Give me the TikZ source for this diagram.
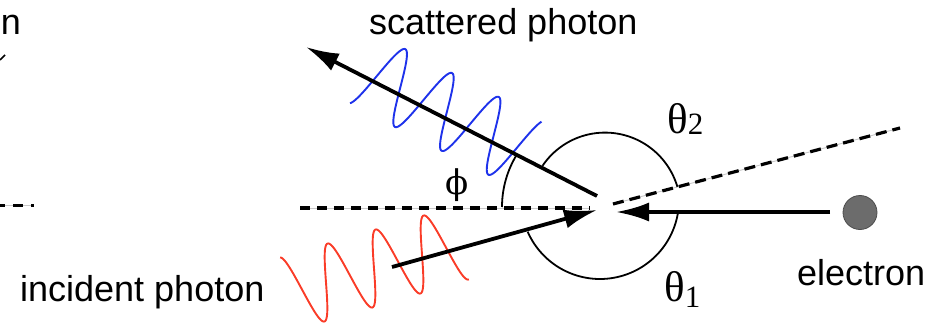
\documentclass[tikz,border=0pt]{standalone}
\usepackage{fontspec}
\setmainfont{Liberation Sans}
\newfontfamily\greekfont{Liberation Serif}
\newfontfamily\phifont{DejaVu Serif}
\usetikzlibrary{arrows.meta}
\definecolor{wblue}{RGB}{30,50,235}
\definecolor{wred}{RGB}{250,60,40}
\definecolor{dotgray}{RGB}{108,108,108}
\definecolor{underlay}{RGB}{200,200,200}
\begin{document}
\begin{tikzpicture}[x=1pt,y=-1pt,
  lbl/.style={inner sep=0pt, font=\fontsize{36}{40}\selectfont},
  glbl/.style={inner sep=0pt, font=\greekfont\fontsize{43}{48}\selectfont},
  bigarrow/.style={line width=3.8pt, -{Latex[length=33pt,width=19pt]}},
  dashline/.style={line width=3.6pt, dash pattern=on 10pt off 7pt},
  thinline/.style={line width=0.9pt, underlay},
  anglearc/.style={line width=1.8pt},
  wave/.style={line width=1.9pt}]
\useasboundingbox (0,0) rectangle (936,323);

% named points
\coordinate (l1) at (0,205);
\coordinate (l2) at (34,205);
\coordinate (h1) at (300,208);
\coordinate (h2) at (590,208);
\coordinate (d1) at (613,204);
\coordinate (d2) at (900,128);
\coordinate (st) at (597,196);
\coordinate (sh) at (306,47);
\coordinate (it) at (392,267);
\coordinate (ih) at (597,210);
\coordinate (ea) at (830,212);
\coordinate (eh) at (616,212);
\coordinate (m1) at (0,60);
\coordinate (m2) at (5,55);

% labels
\node[lbl, anchor=base west] (sp) at (369,35) {scattered photon};
\node[lbl, anchor=base west] (ip) at (20,301) {incident photon};
\node[lbl, anchor=base west] (el) at (797,285) {electron};
\node[lbl, anchor=base east] (nn) at (21,35) {n};
\node[glbl, anchor=base west] (t2) at (667,134) {θ\raisebox{-1pt}{\fontsize{31}{34}\selectfont 2}};
\node[glbl, anchor=base west] (t1) at (664,301) {θ\raisebox{-6pt}{\fontsize{31}{34}\selectfont 1}};
\node[inner sep=0pt, anchor=base, font=\phifont\fontsize{34}{40}\selectfont] (phi) at (457,194) {ϕ};

% small mark top left
\draw[line width=1.5pt] (m1) -- (m2);

% dashed lines with light underlay
\draw[thinline] (l1) -- (l2);
\draw[line width=3pt, dash pattern=on 5pt off 8pt on 10pt off 8pt on 3pt off 20pt] (l1) -- (l2);
\draw[thinline] (h1) -- (h2);
\draw[dashline] (h1) -- (h2);
\draw[thinline] (d1) -- (d2);
\draw[line width=3.2pt, dash pattern=on 11pt off 6pt] (d1) -- (d2);

% angle arcs
\draw[anglearc] plot[domain=148.5:180, samples=40, variable=\a] ({602+100*cos(\a)}, {207-100*sin(\a)});
\draw[anglearc] plot[domain=16.3:146, samples=80, variable=\a] ({605+75.4*cos(\a)}, {208-75.4*sin(\a)});
\draw[anglearc] plot[domain=203.7:350.5, samples=80, variable=\a] ({600+79*cos(\a)}, {200-79*sin(\a)});

% waves
\draw[wave, wblue] plot[domain=-64:115, samples=220, variable=\s]
  ({423.5+0.890*\s+16.835*sin(6.857143*\s)}, {100+0.455*\s-32.93*sin(6.857143*\s)});
\draw[wave, wred] plot[domain=-37:138, samples=220, variable=\s]
  ({326+0.96*\s-10.36*sin(7.2*\s)}, {282.5-0.28*\s-35.52*sin(7.2*\s)});

% arrows
\draw[bigarrow] (st) -- (sh);
\draw[bigarrow] (it) -- (ih);
\draw[bigarrow] (ea) -- (eh);

% electron
\node[circle, fill=dotgray, draw=black!70, line width=0.8pt, minimum size=34pt, inner sep=0pt] (e) at (860,212.5) {};
\end{tikzpicture}
\end{document}
